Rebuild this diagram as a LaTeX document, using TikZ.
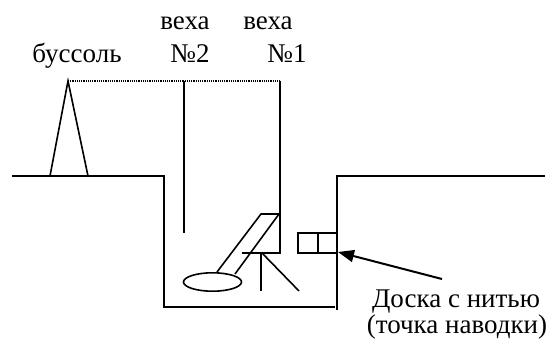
\documentclass[tikz,border=0pt]{standalone}
\usepackage{fontspec}
\setmainfont{Liberation Serif}
\usetikzlibrary{arrows.meta, positioning}

\begin{document}
\begin{tikzpicture}[x=1pt, y=-1pt,
    wall/.style={draw, line width=1.6pt},
    sight/.style={draw, line width=1.2pt, dash pattern=on 1.2pt off 1pt},
    lbl/.style={inner sep=0pt, anchor=base, font=\fontsize{27}{29}\selectfont},
    pointer/.style={draw, -{Triangle[length=16pt, width=12pt]}, line width=2pt}
  ]
    \useasboundingbox (0,0) rectangle (547,340);

    % ground line and the pit
    \draw[wall] (12,176) -- (164,176) -- (164,307) -- (335,307);
    \draw[wall] (337,310) -- (337,176) -- (545,176);

    % compass stand
    \coordinate (compass) at (68,81);
    \draw[wall] (50,176) -- (compass) -- (88,176);

    % poles and the sight line
    \coordinate (pole2) at (184,81);
    \coordinate (pole1) at (280,81);
    \draw[sight] (compass) -- (pole1);
    \draw[wall] (pole2) -- (184,233);
    \draw[wall] (pole1) -- (280,253) -- (242,253);

    % mortar in the pit
    \draw[wall] (217,272) -- (261,214) -- (279,214) -- (235,274);
    \draw[wall] (212.5,282) ellipse [x radius=29, y radius=9.2];
    \draw[wall] (261,253) -- (261,291);
    \draw[wall] (262,253) -- (299,291);

    % board with the thread
    \draw[wall] (298,233) rectangle (337,253);
    \draw[wall] (318,233) -- (318,253);
    \coordinate (board) at (338,252);

    % labels
    \node[lbl] (compasslbl) at (77,62) {буссоль};
    \node[lbl] (veha2) at (185,29) {веха};
    \node[lbl] (veha1) at (268,29) {веха};
    \node[lbl] (num2) at (190,62) {№2};
    \node[lbl] (num1) at (287,62) {№1};
    \node[lbl] (boardlbl) at (456,307) {Доска с нитью};
    \node[lbl] (aimlbl) at (457,333) {(точка наводки)};

    \coordinate (tail) at (442,279);
    \draw[pointer] (tail) -- (board);
\end{tikzpicture}
\end{document}
